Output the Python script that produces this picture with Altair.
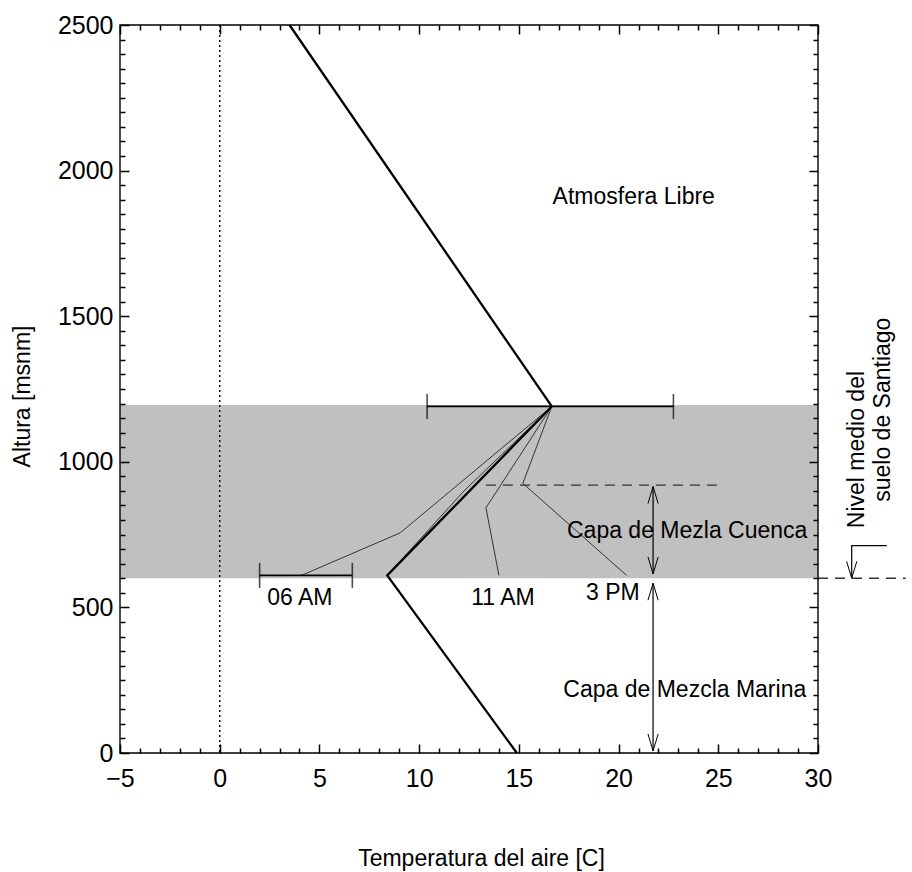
import altair as alt
import pandas as pd

FONT = "Liberation Sans"

# ---------------- data ----------------
X_DOMAIN = [-5, 30]
Y_DOMAIN = [0, 2500]
X_MAJOR = [-5, 0, 5, 10, 15, 20, 25, 30]
X_MINOR = [v for v in range(-5, 31) if v % 5 != 0]
Y_MAJOR = [0, 500, 1000, 1500, 2000, 2500]
Y_MINOR = [v for v in range(0, 2501, 50) if v % 500 != 0]

# gray band (capa de mezcla cuenca)
BAND_Y = [600, 1195]

# thick mean profile
THICK_X = [14.9, 8.4, 16.65, 3.5]
THICK_Y = [0, 610, 1190, 2500]

# thin hourly profiles
AM06_X = [4.1, 9.05, 16.65]
AM06_Y = [610, 756, 1190]
AM11_X = [14.0, 13.35, 16.65]
AM11_Y = [610, 842, 1190]
PM03_X = [20.4, 15.2, 16.65]
PM03_Y = [610, 926, 1190]
ALT_X = [8.4, 12.25, 16.65]
ALT_Y = [610, 900, 1190]

# error bars
EB_Y = [1190, 610]
EB_XLO = [10.4, 2.0]
EB_XHI = [22.75, 6.65]

# dashed top of basin mixing layer
DASH_Y = 920
DASH_X = [13.35, 25.1]

# double arrows
ARROW_X = 21.73
SHAFT_TOP = [915, 583]
SHAFT_BOT = [615, 7]

# ground level annotation (outside the frame)
GROUND_Y = 600
GROUND_X = [30, 34.4]
BENT_X = [33.45, 31.69, 31.69]
BENT_Y = [712, 712, 600]

# texts
TXT_LABELS = ["Atmosfera Libre", "Capa de Mezla Cuenca", "Capa de Mezcla Marina",
              "06 AM", "11 AM", "3 PM"]
TXT_X = [20.76, 23.44, 23.32, 4.02, 14.2, 19.71]
TXT_Y = [1910, 764, 215, 532, 532, 548]
ROT_LABELS = ["Nivel medio del", "suelo de Santiago"]
ROT_X = [31.94, 33.25]
ROT_Y = [1042, 1179]

# ---------------- helpers ----------------
XS = alt.Scale(domain=X_DOMAIN, nice=False, zero=False)
YS = alt.Scale(domain=Y_DOMAIN, nice=False, zero=False)


def X(field, **kw):
    return alt.X(field, type="quantitative", scale=XS, axis=None, **kw)


def Y(field, **kw):
    return alt.Y(field, type="quantitative", scale=YS, axis=None, **kw)


def X2(field):
    return alt.X2(field)


def Y2(field):
    return alt.Y2(field)


UP_HEAD = "M -0.3 1 L 0 0 L 0.3 1"
DOWN_HEAD = "M -0.3 -1 L 0 0 L 0.3 -1"
HEAD_SIZE = 1156

# ---------------- layers ----------------
band = alt.Chart(pd.DataFrame({"x": [X_DOMAIN[0]], "x2": [X_DOMAIN[1]],
                               "y": [BAND_Y[0]], "y2": [BAND_Y[1]]})).mark_rect(
    color="#c0c0c0").encode(x=X("x"), x2=X2("x2"), y=Y("y"), y2=Y2("y2"))

zero_line = alt.Chart(pd.DataFrame({"x": [0]})).mark_rule(
    color="black", strokeWidth=1.4, strokeDash=[2, 3]).encode(x=X("x"))

thick_df = pd.DataFrame({"x": THICK_X, "y": THICK_Y, "o": list(range(len(THICK_X)))})
thick = alt.Chart(thick_df).mark_line(color="black", strokeWidth=2.3).encode(
    x=X("x"), y=Y("y"), order="o:Q")

thin_rows = []
for name, xs, ys in [("06 AM", AM06_X, AM06_Y), ("11 AM", AM11_X, AM11_Y),
                     ("3 PM", PM03_X, PM03_Y), ("alt", ALT_X, ALT_Y)]:
    for i, (xv, yv) in enumerate(zip(xs, ys)):
        thin_rows.append({"s": name, "x": xv, "y": yv, "o": i})
thin = alt.Chart(pd.DataFrame(thin_rows)).mark_line(color="#333333", strokeWidth=1.0).encode(
    x=X("x"), y=Y("y"), detail="s:N", order="o:Q")

eb_df = pd.DataFrame({"lo": EB_XLO, "hi": EB_XHI, "y": EB_Y})
eb_rule = alt.Chart(eb_df).mark_rule(color="black", strokeWidth=1.8).encode(
    x=X("lo"), x2=X2("hi"), y=Y("y"))
cap_df = pd.DataFrame({"x": EB_XLO + EB_XHI, "y": EB_Y + EB_Y})
eb_caps = alt.Chart(cap_df).mark_tick(color="black", orient="vertical", size=25,
                                      thickness=1.6).encode(x=X("x"), y=Y("y"))

dash = alt.Chart(pd.DataFrame({"x": [DASH_X[0]], "x2": [DASH_X[1]], "y": [DASH_Y]})).mark_rule(
    color="#333333", strokeWidth=1.4, strokeDash=[10, 7]).encode(x=X("x"), x2=X2("x2"), y=Y("y"))

shafts = alt.Chart(pd.DataFrame({"x": [ARROW_X, ARROW_X], "y": SHAFT_TOP, "y2": SHAFT_BOT})).mark_rule(
    color="black", strokeWidth=1.2).encode(x=X("x"), y=Y("y"), y2=Y2("y2"))
heads_up = alt.Chart(pd.DataFrame({"x": [ARROW_X, ARROW_X], "y": SHAFT_TOP})).mark_point(
    shape=UP_HEAD, size=HEAD_SIZE, color="black", filled=False, opacity=1, strokeWidth=1.0).encode(
    x=X("x"), y=Y("y"))
heads_down = alt.Chart(pd.DataFrame({"x": [ARROW_X, ARROW_X, BENT_X[-1]],
                                     "y": SHAFT_BOT + [BENT_Y[-1]]})).mark_point(
    shape=DOWN_HEAD, size=HEAD_SIZE, color="black", filled=False, opacity=1, strokeWidth=1.0).encode(
    x=X("x"), y=Y("y"))

ground = alt.Chart(pd.DataFrame({"x": [GROUND_X[0]], "x2": [GROUND_X[1]], "y": [GROUND_Y]})).mark_rule(
    color="#333333", strokeWidth=1.4, strokeDash=[10, 7]).encode(x=X("x"), x2=X2("x2"), y=Y("y"))
bent = alt.Chart(pd.DataFrame({"x": BENT_X, "y": BENT_Y, "o": list(range(len(BENT_X)))})).mark_line(
    color="black", strokeWidth=1.2).encode(x=X("x"), y=Y("y"), order="o:Q")

texts = alt.Chart(pd.DataFrame({"t": TXT_LABELS, "x": TXT_X, "y": TXT_Y})).mark_text(
    font=FONT, fontSize=23, color="black", align="center", baseline="middle").encode(
    x=X("x"), y=Y("y"), text="t:N")
rot_texts = alt.Chart(pd.DataFrame({"t": ROT_LABELS, "x": ROT_X, "y": ROT_Y})).mark_text(
    font=FONT, fontSize=23, color="black", align="center", baseline="middle", angle=270).encode(
    x=X("x"), y=Y("y"), text="t:N")

frame = alt.Chart(pd.DataFrame({"x": [X_DOMAIN[0]], "x2": [X_DOMAIN[1]],
                                "y": [Y_DOMAIN[0]], "y2": [Y_DOMAIN[1]]})).mark_rect(
    fillOpacity=0, stroke="black", strokeWidth=1.4).encode(x=X("x"), x2=X2("x2"), y=Y("y"), y2=Y2("y2"))

# ---------------- axes (inward ticks on all four sides) ----------------
MAJ, MIN = 9, 5
common = dict(domain=False, grid=False, ticks=True, tickColor="black", tickWidth=1.5,
              tickOpacity=1, zindex=2)


def axis(orient, values, size, labels=False, **kw):
    return alt.Axis(orient=orient, values=values, tickSize=size, offset=-size,
                    labels=labels, **common, **kw)


anchor = pd.DataFrame({"x": [X_DOMAIN[0]], "y": [Y_DOMAIN[0]]})

ax_major_main = alt.Chart(anchor).mark_point(opacity=0).encode(
    x=alt.X("x", type="quantitative", scale=XS, axis=axis(
        "bottom", X_MAJOR, MAJ, labels=True, format="d", labelFont=FONT, labelFontSize=25,
        labelColor="black", labelPadding=13, labelFlush=False, labelOverlap=False,
        title="Temperatura del aire [C]", titleFont=FONT, titleFontSize=23,
        titleFontWeight="normal", titleColor="black", titleX=361, titleY=114,
        titleAlign="center", titleBaseline="middle")),
    y=alt.Y("y", type="quantitative", scale=YS, axis=axis(
        "left", Y_MAJOR, MAJ, labels=True, format="d", labelFont=FONT, labelFontSize=25,
        labelColor="black", labelPadding=7, labelFlush=False, labelOverlap=False,
        title="Altura [msnm]", titleFont=FONT, titleFontSize=23, titleFontWeight="normal",
        titleColor="black", titleX=-107, titleY=371, titleAngle=270,
        titleAlign="center", titleBaseline="middle")),
)
ax_major_opp = alt.Chart(anchor).mark_point(opacity=0).encode(
    x=alt.X("x", type="quantitative", scale=XS, axis=axis("top", X_MAJOR, MAJ, title=None)),
    y=alt.Y("y", type="quantitative", scale=YS, axis=axis("right", Y_MAJOR, MAJ, title=None)),
)
ax_minor_main = alt.Chart(anchor).mark_point(opacity=0).encode(
    x=alt.X("x", type="quantitative", scale=XS, axis=axis("bottom", X_MINOR, MIN, title=None)),
    y=alt.Y("y", type="quantitative", scale=YS, axis=axis("left", Y_MINOR, MIN, title=None)),
)
ax_minor_opp = alt.Chart(anchor).mark_point(opacity=0).encode(
    x=alt.X("x", type="quantitative", scale=XS, axis=axis("top", X_MINOR, MIN, title=None)),
    y=alt.Y("y", type="quantitative", scale=YS, axis=axis("right", Y_MINOR, MIN, title=None)),
)

chart = alt.layer(
    ax_major_main, ax_major_opp, ax_minor_main, ax_minor_opp,
    band, zero_line, thin, thick, eb_rule, eb_caps, dash, shafts, heads_up, heads_down,
    ground, bent, texts, rot_texts, frame,
).resolve_axis(x="independent", y="independent").properties(
    width=698, height=728,
    padding={"left": 120, "top": 25, "right": 94, "bottom": 119},
    autosize=alt.AutoSizeParams(type="none"),
    background="white",
).configure_view(stroke="transparent")

chart.save("out.html", embed_options={"renderer": "svg", "actions": False})
